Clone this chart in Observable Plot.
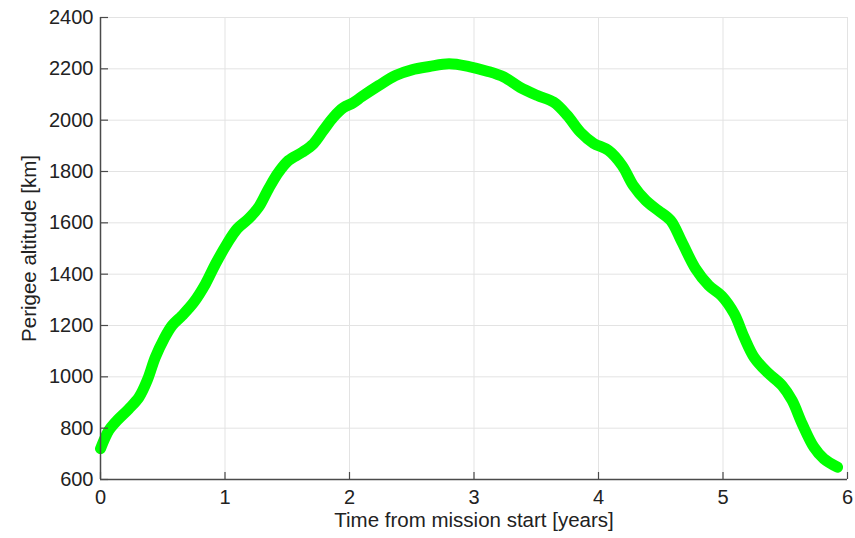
<!DOCTYPE html>
<html>
<head>
<meta charset="utf-8">
<script src="https://cdn.jsdelivr.net/npm/d3@7"></script>
<script src="https://cdn.jsdelivr.net/npm/@observablehq/plot@0.6"></script>
<style>
  html, body { margin: 0; padding: 0; background: #fff; }
  #chart svg { display: block; background: #fff; }
</style>
</head>
<body>
<div id="chart"></div>
<script>
// Time from mission start [years]
const timeYears = [0, 0.067, 0.12, 0.227, 0.31, 0.375, 0.44, 0.51, 0.575, 0.656, 0.75, 0.843, 0.924,
  1.018, 1.098, 1.19, 1.27, 1.35, 1.43, 1.51, 1.62, 1.71, 1.79, 1.87, 1.95,
  2.03, 2.10, 2.235, 2.37, 2.50, 2.64, 2.80, 2.96,
  3.105, 3.24, 3.37, 3.51, 3.64, 3.75, 3.855, 3.96,
  4.08, 4.19, 4.28, 4.38, 4.48, 4.58, 4.67, 4.78, 4.885, 4.99,
  5.09, 5.17, 5.25, 5.355, 5.475, 5.555, 5.636, 5.73, 5.81, 5.92];
// Perigee altitude [km]
const perigeeKm = [720, 791, 823, 875, 921, 986, 1076, 1148, 1200, 1239, 1291, 1362, 1440,
  1520, 1577, 1616, 1661, 1733, 1797, 1843, 1875, 1908, 1960, 2011, 2048,
  2068, 2092, 2135, 2174, 2196, 2209, 2220, 2209,
  2191, 2168, 2128, 2096, 2070, 2018, 1953, 1910,
  1882, 1823, 1745, 1687, 1648, 1609, 1525, 1421, 1356, 1315,
  1246, 1154, 1076, 1018, 966, 908, 817, 726, 681, 648];

const xTicks = [0, 1, 2, 3, 4, 5, 6];
const yTicks = [600, 800, 1000, 1200, 1400, 1600, 1800, 2000, 2200, 2400];
const xLabel = "Time from mission start [years]";
const yLabel = "Perigee altitude [km]";

const data = timeYears.map((t, i) => ({t, v: perigeeKm[i]}));

const W = 855, H = 538;
const mL = 100, mR = 8, mT = 17, mB = 59;
const plotW = W - mL - mR, plotH = H - mT - mB;
const axisColor = "#4a4a4a";
const textColor = "#222";

const chart = Plot.plot({
  width: W,
  height: H,
  marginLeft: mL,
  marginRight: mR,
  marginTop: mT,
  marginBottom: mB,
  style: {fontFamily: "'Liberation Sans', Arial, Helvetica, sans-serif", fontSize: "20px", color: textColor, background: "#fff"},
  x: {domain: [0, 6]},
  y: {domain: [600, 2400]},
  marks: [
    Plot.gridX(xTicks, {stroke: "#e3e3e3", strokeOpacity: 1, strokeWidth: 1}),
    Plot.gridY(yTicks, {stroke: "#e3e3e3", strokeOpacity: 1, strokeWidth: 1}),
    Plot.line(data, {x: "t", y: "v", stroke: "#00ff00", strokeWidth: 11, strokeLinecap: "round", strokeLinejoin: "round", curve: "catmull-rom"}),
    // inward ticks
    Plot.ruleX(xTicks, {stroke: axisColor, strokeWidth: 1.2, insetTop: plotH - 7}),
    Plot.ruleY(yTicks, {stroke: axisColor, strokeWidth: 1.2, insetRight: plotW - 8}),
    // axis lines
    Plot.ruleX([0], {stroke: axisColor, strokeWidth: 1.5}),
    Plot.ruleY([600], {stroke: axisColor, strokeWidth: 1.5}),
    Plot.axisX(xTicks, {tickSize: 0, tickPadding: 10, label: null, tickFormat: d => String(d), fill: textColor, fontSize: 20}),
    Plot.axisY(yTicks, {tickSize: 0, tickPadding: 7, label: null, tickFormat: d => String(d), fill: textColor, fontSize: 20}),
    Plot.text([xLabel], {text: d => d, frameAnchor: "bottom", dy: 47, fill: textColor, fontSize: 20.5}),
    Plot.text([yLabel], {text: d => d, frameAnchor: "left", textAnchor: "middle", dx: -71, rotate: -90, fill: textColor, fontSize: 20.5})
  ]
});

document.getElementById("chart").appendChild(chart);
</script>
</body>
</html>
